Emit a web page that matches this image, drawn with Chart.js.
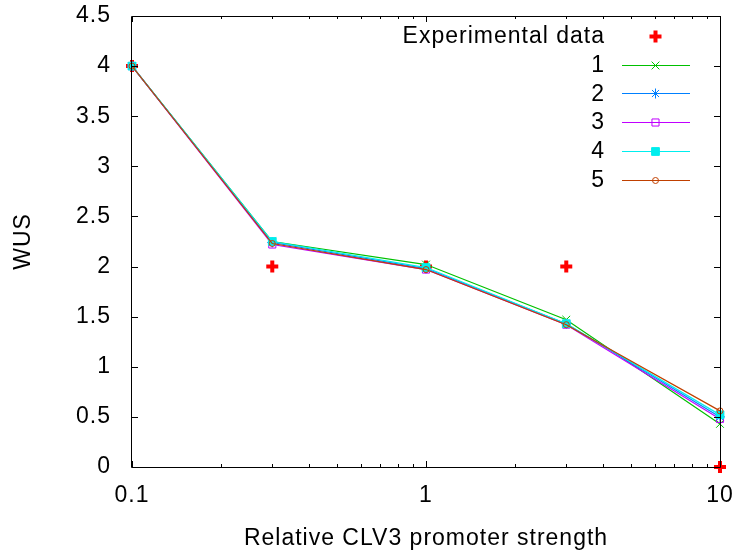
<!DOCTYPE html>
<html>
<head>
<meta charset="utf-8">
<script src="https://cdn.jsdelivr.net/npm/chart.js@4.4.1/dist/chart.umd.min.js"></script>
<style>
html,body{margin:0;padding:0;background:#fff;}
#wrap{width:736px;height:554px;}
</style>
</head>
<body>
<div id="wrap"><canvas id="c" width="736" height="554"></canvas></div>
<script>
// ---- data ----
const xValues = [0.1, 0.3, 1, 3, 10];
const experimental = [4, 2, 2, 2, 0];
const series1 = [4.00, 2.25, 2.02, 1.47, 0.43];
const series2 = [4.00, 2.24, 1.98, 1.43, 0.50];
const series3 = [4.00, 2.22, 1.97, 1.42, 0.48];
const series4 = [4.00, 2.25, 1.99, 1.43, 0.52];
const series5 = [4.00, 2.23, 1.97, 1.42, 0.56];
const seriesLabels = ['Experimental data', '1', '2', '3', '4', '5'];
const xTickValues = [0.1,0.2,0.3,0.4,0.5,0.6,0.7,0.8,0.9,1,2,3,4,5,6,7,8,9,10];
const xTickLabels = {0.1:'0.1', 1:'1', 10:'10'};
const yTickValues = [0,0.5,1,1.5,2,2.5,3,3.5,4,4.5];
const yTickLabels = ['0','0.5','1','1.5','2','2.5','3','3.5','4','4.5'];

const FONT = 'Liberation Sans, Arial, sans-serif';
const FS = 23;
const toPts = arr => arr.map((y,i)=>({x:xValues[i], y}));

function ds(label, data, color, style, radius, fill, order, bw){
  return {
    label, data: toPts(data), borderColor: color, backgroundColor: fill,
    borderWidth: 1.2, pointStyle: style, pointRadius: radius, pointBorderWidth: bw||1,
    pointBorderColor: color, pointBackgroundColor: fill, showLine: true,
    tension: 0, clip: false, order
  };
}

const datasets = [
  Object.assign(ds(seriesLabels[0], experimental, '#ff0000', 'cross', 6, '#ff0000', 10, 4), {showLine:false}),
  ds(seriesLabels[1], series1, '#00c000', 'crossRot', 5.5, 'rgba(0,0,0,0)', 5),
  ds(seriesLabels[2], series2, '#0080ff', 'star', 5, 'rgba(0,0,0,0)', 4),
  ds(seriesLabels[3], series3, '#c000ff', 'rect', 5, 'rgba(0,0,0,0)', 3),
  ds(seriesLabels[4], series4, '#00eeee', 'rect', 5.5, '#00eeee', 2),
  ds(seriesLabels[5], series5, '#c04000', 'circle', 3, 'rgba(0,0,0,0)', 1),
];

const spacingPlugin = {
  id: 'spacing',
  beforeUpdate(chart){ chart.ctx.letterSpacing = '1px'; },
  beforeDraw(chart){ chart.ctx.letterSpacing = '1px'; }
};

const framePlugin = {
  id: 'frame',
  afterDraw(chart){
    const {ctx, chartArea:a, scales} = chart;
    ctx.save();
    ctx.strokeStyle = '#000';
    ctx.lineWidth = 1;
    ctx.beginPath();
    ctx.rect(Math.round(a.left)-0.5, Math.round(a.top)+0.5, Math.round(a.right-a.left)+1, Math.round(a.bottom-a.top));
    ctx.stroke();
    ctx.beginPath();
    xTickValues.forEach(v=>{
      const px = Math.round(scales.x.getPixelForValue(v))+0.5;
      const major = xTickLabels[v] !== undefined;
      const len = major ? 6 : 3;
      ctx.moveTo(px, a.bottom); ctx.lineTo(px, a.bottom-len);
      ctx.moveTo(px, a.top); ctx.lineTo(px, a.top+len);
    });
    yTickValues.forEach(v=>{
      const py = Math.round(scales.y.getPixelForValue(v))+0.5;
      ctx.moveTo(a.left, py); ctx.lineTo(a.left+6, py);
      ctx.moveTo(a.right, py); ctx.lineTo(a.right-6, py);
    });
    ctx.stroke();
    // legend
    ctx.font = FS + 'px ' + FONT;
    ctx.letterSpacing = '1px';
    ctx.textAlign = 'right';
    ctx.textBaseline = 'middle';
    chart.data.datasets.forEach((d,i)=>{
      const y = 36 + i*28.7;
      ctx.fillStyle = '#000';
      ctx.fillText(d.label, 605, y+1);
      const yy = Math.round(y)+0.5;
      if (d.showLine !== false){
        ctx.strokeStyle = d.borderColor; ctx.lineWidth = 1.2;
        ctx.beginPath(); ctx.moveTo(622, yy); ctx.lineTo(690, yy); ctx.stroke();
      }
      ctx.strokeStyle = d.pointBorderColor;
      ctx.fillStyle = d.pointBackgroundColor;
      ctx.lineWidth = d.pointBorderWidth;
      Chart.helpers.drawPoint(ctx, {pointStyle:d.pointStyle, radius:d.pointRadius, borderWidth:d.pointBorderWidth, rotation:0}, 655.5, yy);
    });
    ctx.restore();
  }
};

function zeroPad(s){ s.paddingTop = 0; s.paddingBottom = 0; s.paddingLeft = 0; s.paddingRight = 0; }

new Chart(document.getElementById('c'), {
  type: 'scatter',
  data: { datasets },
  options: {
    responsive: false,
    animation: false,
    devicePixelRatio: 1,
    layout: { padding: { left: 0, right: 16, top: 16, bottom: 0 } },
    plugins: { legend: { display: false }, tooltip: { enabled: false } },
    scales: {
      x: {
        type: 'logarithmic', min: 0.1, max: 10,
        grid: { display: false, drawTicks: false }, border: { display: false },
        afterBuildTicks(s){ s.ticks = xTickValues.map(v=>({value:v, major: xTickLabels[v]!==undefined})); },
        afterFit(s){ s.height = 87; zeroPad(s); },
        ticks: {
          autoSkip: false, maxRotation: 0, minRotation: 0, padding: 15,
          color: '#000', font: { family: FONT, size: FS },
          callback(v){ return xTickLabels[v] !== undefined ? xTickLabels[v] : ''; }
        },
        title: { display: true, text: 'Relative CLV3 promoter strength', color: '#000',
                 font: { family: FONT, size: FS }, padding: { top: 0, bottom: 2 } }
      },
      y: {
        min: 0, max: 4.5,
        grid: { display: false, drawTicks: false }, border: { display: false },
        afterBuildTicks(s){ s.ticks = yTickValues.map(v=>({value:v})); },
        afterFit(s){ s.width = 132; zeroPad(s); },
        ticks: { padding: 21, color: '#000', font: { family: FONT, size: FS },
                 callback(v, i){ return yTickLabels[yTickValues.indexOf(v)]; } },
        title: { display: true, text: 'WUS', color: '#000',
                 font: { family: FONT, size: FS }, padding: { top: 10, bottom: 0 } }
      }
    }
  },
  plugins: [spacingPlugin, framePlugin]
});
</script>
</body>
</html>
